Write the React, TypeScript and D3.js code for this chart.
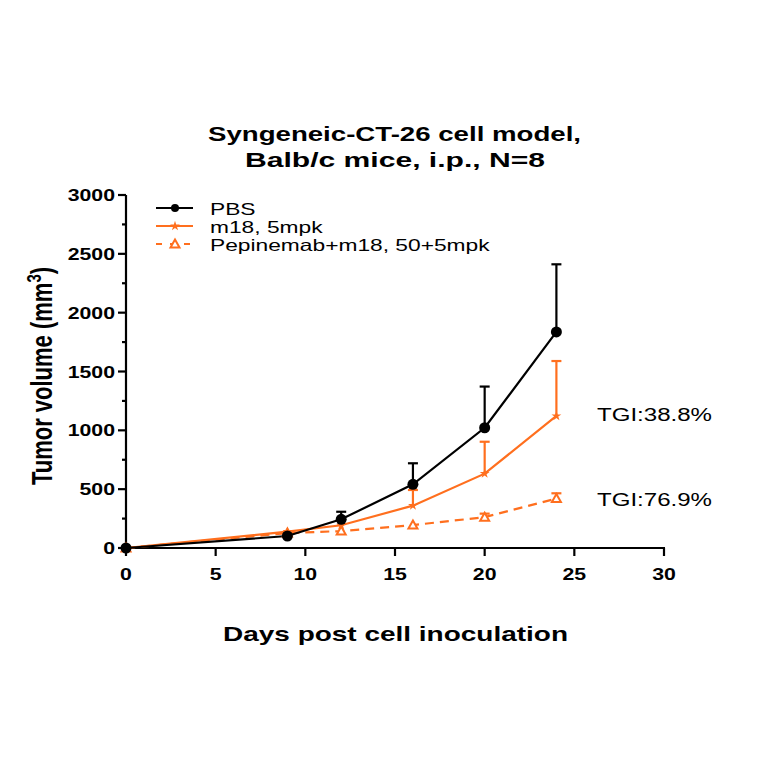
import React from "react";
import * as d3 from "d3";

const days = [0, 9, 12, 16, 20, 24];
const pbsMean = [0, 102, 244, 541, 1022, 1836];
const pbsErr = [0, 0, 64, 179, 350, 575];
const m18Mean = [0, 139, 193, 360, 632, 1122];
const m18Err = [0, 0, 0, 133, 271, 467];
const pepMean = [0, 127, 144, 195, 262, 420];
const pepErr = [0, 0, 0, 0, 30, 45];
const xTicks = [0, 5, 10, 15, 20, 25, 30];
const yTicks = [0, 500, 1000, 1500, 2000, 2500, 3000];
const yMinor = [250, 750, 1250, 1750, 2250, 2750];
const legendLabels = ["PBS", "m18, 5mpk", "Pepinemab+m18, 50+5mpk"];
const tgiLabels = ["TGI:38.8%", "TGI:76.9%"];

const ORANGE = "#ff6f1e";
const FONT = "'Liberation Sans', Arial, sans-serif";

export default function App() {
  const x = d3.scaleLinear().domain([0, 30]).range([126, 664]);
  const y = d3.scaleLinear().domain([0, 3000]).range([548, 195]);
  const line = d3
    .line<number>()
    .x((_, i) => x(days[i]))
    .y((d) => y(d));

  const errBars = (means: number[], errs: number[], color: string) =>
    means.map((m, i) =>
      errs[i] > 0 ? (
        <g key={i} stroke={color} strokeWidth={2.2}>
          <line x1={x(days[i])} x2={x(days[i])} y1={y(m)} y2={y(m + errs[i])} />
          <line x1={x(days[i]) - 5} x2={x(days[i]) + 5} y1={y(m + errs[i])} y2={y(m + errs[i])} />
        </g>
      ) : null
    );

  const star = (cx: number, cy: number, key: any) => {
    const p = d3.symbol().type(d3.symbolStar).size(30)();
    return <path key={key} d={p || ""} transform={`translate(${cx},${cy})`} fill={ORANGE} />;
  };
  const tri = (cx: number, cy: number, key: any) => (
    <path
      key={key}
      d={`M${cx},${cy - 4.5} L${cx + 4.5},${cy + 3.5} L${cx - 4.5},${cy + 3.5} Z`}
      fill="white"
      stroke={ORANGE}
      strokeWidth={2}
    />
  );

  const stext = (
    key: any,
    tx: number,
    ty: number,
    anchor: string,
    size: number,
    weight: string,
    sx: number,
    content: any
  ) => (
    <text
      key={key}
      transform={`translate(${tx},${ty}) scale(${sx},1)`}
      textAnchor={anchor}
      fontSize={size}
      fontWeight={weight}
    >
      {content}
    </text>
  );

  return (
    <svg width={764} height={764} style={{ display: "block", position: "absolute", left: 0, top: 0 }} fontFamily={FONT}>
      <rect width={764} height={764} fill="white" />
      {/* Title */}
      <text x={208} y={141} fontSize={20.5} fontWeight="bold" textLength={373} lengthAdjust="spacingAndGlyphs">
        Syngeneic-CT-26 cell model,
      </text>
      <text x={245} y={167} fontSize={20.5} fontWeight="bold" textLength={300} lengthAdjust="spacingAndGlyphs">
        Balb/c mice, i.p., N=8
      </text>

      {/* Axes */}
      <g stroke="black" strokeWidth={2.2}>
        <line x1={126} x2={126} y1={y(3000)} y2={y(0)} />
        <line x1={126} x2={665} y1={y(0)} y2={y(0)} />
        {yTicks.map((t) => (
          <line key={t} x1={118} x2={126} y1={y(t)} y2={y(t)} />
        ))}
        {yMinor.map((t) => (
          <line key={t} x1={122} x2={126} y1={y(t)} y2={y(t)} />
        ))}
        {xTicks.map((t) => (
          <line key={t} x1={x(t)} x2={x(t)} y1={y(0)} y2={y(0) + 8} />
        ))}
      </g>
      {yTicks.map((t) => stext("y" + t, 115, y(t) + 6, "end", 16, "bold", 1.33, t))}
      {xTicks.map((t) => stext("x" + t, x(t), 580, "middle", 16, "bold", 1.33, t))}
      <text
        transform={`translate(52,376) scale(1.35,1) rotate(-90)`}
        textAnchor="middle"
        fontSize={22}
        fontWeight="bold"
      >
        Tumor volume (mm<tspan dy={-8} fontSize={15}>3</tspan>
        <tspan dy={8}>)</tspan>
      </text>
      <text x={223} y={641} fontSize={21} fontWeight="bold" textLength={345} lengthAdjust="spacingAndGlyphs">
        Days post cell inoculation
      </text>

      {/* Error bars */}
      {errBars(pepMean, pepErr, ORANGE)}
      {errBars(m18Mean, m18Err, ORANGE)}
      {errBars(pbsMean, pbsErr, "black")}

      {/* Lines */}
      <path d={line(pepMean) || ""} fill="none" stroke={ORANGE} strokeWidth={2.2} strokeDasharray="9,6" />
      <path d={line(m18Mean) || ""} fill="none" stroke={ORANGE} strokeWidth={2.2} />
      <path d={line(pbsMean) || ""} fill="none" stroke="black" strokeWidth={2.2} />

      {/* Markers */}
      {pepMean.map((m, i) => tri(x(days[i]), y(m), "t" + i))}
      {m18Mean.map((m, i) => star(x(days[i]), y(m), "s" + i))}
      {pbsMean.map((m, i) => (
        <circle key={"c" + i} cx={x(days[i])} cy={y(m)} r={5.5} fill="black" />
      ))}

      {/* Legend */}
      <g>
        <line x1={156} x2={193} y1={208} y2={208} stroke="black" strokeWidth={2.2} />
        <circle cx={175} cy={208} r={4} fill="black" />
        {stext("l0", 210, 215, "start", 16.5, "normal", 1.38, legendLabels[0])}

        <line x1={156} x2={193} y1={226} y2={226} stroke={ORANGE} strokeWidth={2.2} />
        {star(175, 226, "ls")}
        {stext("l1", 210, 233, "start", 16.5, "normal", 1.38, legendLabels[1])}

        <line x1={156} x2={193} y1={244} y2={244} stroke={ORANGE} strokeWidth={2.2} strokeDasharray="6,8" />
        {tri(175, 244, "lt")}
        {stext("l2", 210, 251, "start", 16.5, "normal", 1.38, legendLabels[2])}
      </g>

      {/* TGI */}
      <text x={597} y={421} fontSize={17.5} textLength={115} lengthAdjust="spacingAndGlyphs">{tgiLabels[0]}</text>
      <text x={597} y={506} fontSize={17.5} textLength={115} lengthAdjust="spacingAndGlyphs">{tgiLabels[1]}</text>
    </svg>
  );
}
